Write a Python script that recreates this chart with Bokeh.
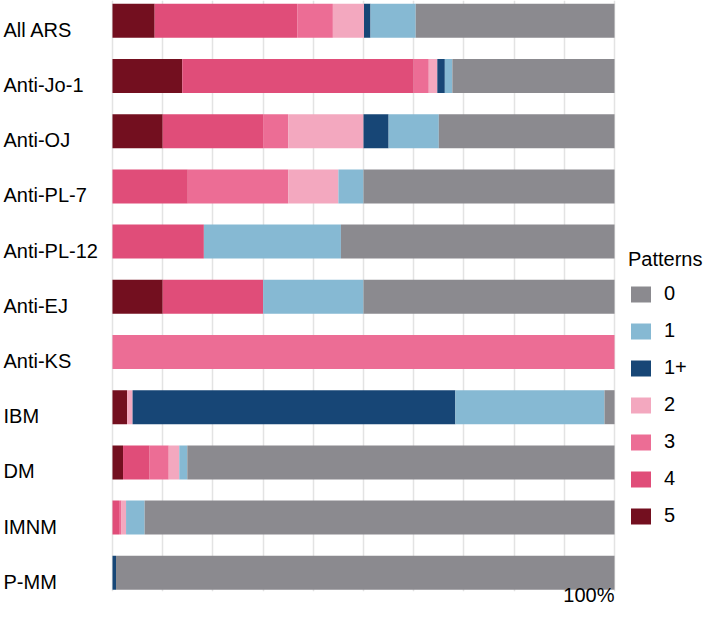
from bokeh.plotting import figure
from bokeh.models import ColumnDataSource, Range1d, FixedTicker, Legend, LegendItem
from bokeh.embed import file_html
from bokeh.resources import INLINE

# ---- data (percent of patients per pattern count) ----
categories = ["All ARS", "Anti-Jo-1", "Anti-OJ", "Anti-PL-7", "Anti-PL-12", "Anti-EJ",
              "Anti-KS", "IBM", "DM", "IMNM", "P-MM"]
p5 = [8.4, 13.9, 10.0, 0.0, 0.0, 10.0, 0.0, 2.9, 2.1, 0.0, 0.0]
p4 = [28.4, 46.1, 20.0, 15.0, 18.2, 20.0, 0.0, 0.0, 5.3, 1.3, 0.0]
p3 = [7.1, 3.0, 5.0, 20.0, 0.0, 0.0, 100.0, 0.0, 3.8, 0.5, 0.0]
p2 = [6.2, 1.7, 15.0, 10.0, 0.0, 0.0, 0.0, 1.1, 2.1, 0.9, 0.0]
p1plus = [1.3, 1.5, 5.0, 0.0, 0.0, 0.0, 0.0, 64.3, 0.0, 0.0, 0.7]
p1 = [9.0, 1.5, 10.0, 5.0, 27.3, 20.0, 0.0, 29.7, 1.6, 3.7, 0.0]
p0 = [39.6, 32.3, 35.0, 50.0, 54.5, 50.0, 0.0, 2.0, 85.1, 93.6, 99.3]

pattern_keys = ["p5", "p4", "p3", "p2", "p1plus", "p1", "p0"]
pattern_names = ["5", "4", "3", "2", "1+", "1", "0"]
colors = ["#730f1f", "#e04d79", "#ec6d95", "#f3a8bf", "#174676", "#86b9d3", "#8b8a8f"]
grid_ticks = list(range(0, 101, 10))
x_ticks = [100]
x_tick_labels = {100: "100%"}
legend_title = "Patterns"

FONT = "Liberation Sans"
X_START = -22.31   # frame extends left to hold the category labels
X_END = 118.92     # ... and right to hold the legend

source = ColumnDataSource(dict(
    y=list(range(len(categories))), cat=categories,
    p5=p5, p4=p4, p3=p3, p2=p2, p1plus=p1plus, p1=p1, p0=p0,
))

p = figure(width=709, height=619, output_backend="svg", toolbar_location=None,
           x_range=Range1d(X_START, X_END), y_range=Range1d(10.339, -0.368),
           y_axis_location=None,
           min_border_left=0, min_border_right=0, min_border_top=0, min_border_bottom=0)
p.outline_line_color = None
p.background_fill_color = "white"
p.border_fill_color = "white"

renderers = p.hbar_stack(pattern_keys, y="y", height=0.616, fill_color=colors,
                         line_color=None, source=source)

# category labels, left aligned at the left edge
p.text(x=X_START, y="y", text="cat", source=source, x_offset=3, y_offset=9,
       text_align="left", text_baseline="middle",
       text_font={"value": FONT}, text_font_size={"value": "20px"}, text_color="black")

# grid (0..100 only)
p.xgrid.ticker = FixedTicker(ticks=grid_ticks)
p.xgrid.grid_line_color = "#e3e3e3"
p.xgrid.grid_line_width = 1.5
p.ygrid.visible = False

# x axis: only the "100%" tick label, right-aligned at the 100 mark
p.xaxis.ticker = FixedTicker(ticks=x_ticks)
p.xaxis.major_label_overrides = x_tick_labels
p.xaxis.major_label_orientation = 0.0001
p.xaxis.axis_line_color = None
p.xaxis.major_tick_line_color = None
p.xaxis.minor_tick_line_color = None
p.xaxis.major_tick_out = 0
p.xaxis.major_tick_in = 0
p.xaxis.major_label_standoff = 3
p.xaxis.major_label_text_font = FONT
p.xaxis.major_label_text_font_size = "20px"
p.xaxis.major_label_text_color = "black"

# legend
items = [LegendItem(label=n, renderers=[r])
         for n, r in reversed(list(zip(pattern_names, renderers)))]
legend = Legend(items=items, title=legend_title, location=(628, 64),
                orientation="vertical")
legend.title_text_font = FONT
legend.title_text_font_size = "20px"
legend.title_text_font_style = "normal"
legend.title_text_color = "black"
legend.title_standoff = 11
legend.label_text_font = FONT
legend.label_text_font_size = "20px"
legend.label_text_color = "black"
legend.glyph_width = 25
legend.glyph_height = 20
legend.label_height = 20
legend.label_standoff = 11
legend.spacing = 14
legend.padding = 0
legend.margin = 0
legend.border_line_color = None
legend.background_fill_alpha = 0
p.add_layout(legend)

open("out.html", "w").write(file_html(p, INLINE))
